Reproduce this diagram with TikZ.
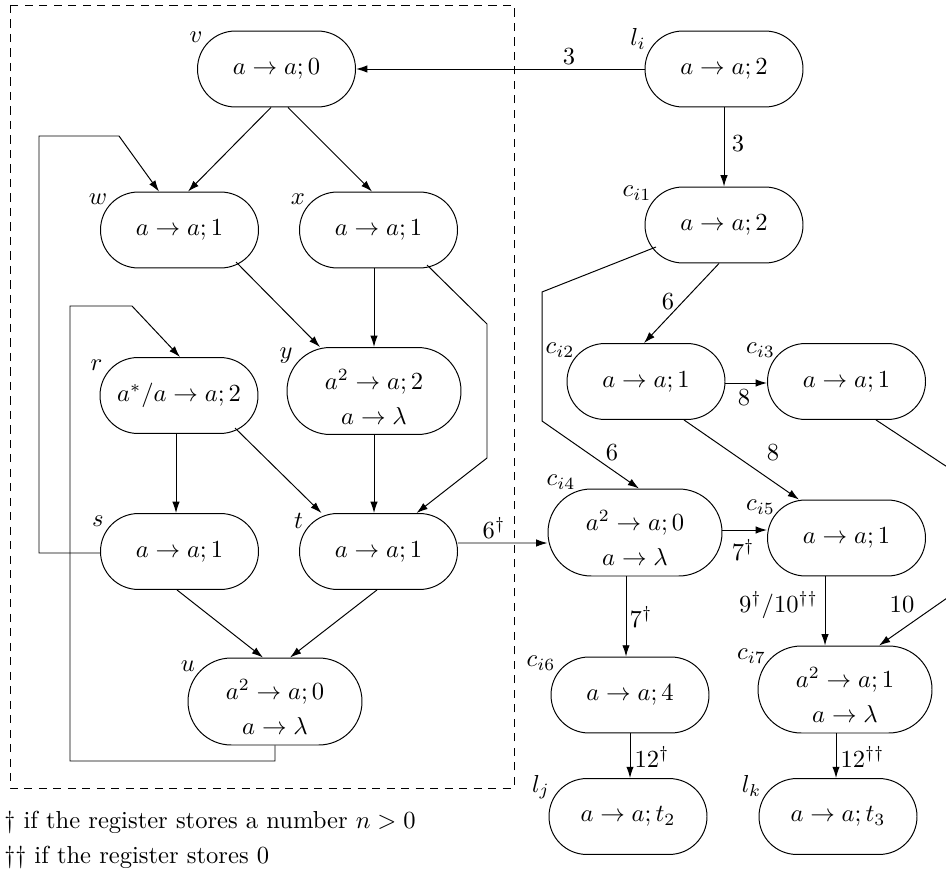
\documentclass[tikz,border=0pt]{standalone}
\usetikzlibrary{arrows.meta,calc}
\newcommand\mytwo[2]{\raisebox{-4pt}[\height][\depth]{$\begin{array}{@{}c@{}}#1\\[2.3pt]#2\end{array}$}}
\begin{document}
\begin{tikzpicture}[x=0.407pt,y=-0.407pt,
  st/.style={draw, rectangle, rounded corners=15.4pt, minimum width=64.3pt, minimum height=30.9pt, inner sep=0pt},
  sttwo/.style={draw, rectangle, rounded corners=17.6pt, minimum width=70.8pt, minimum height=35.4pt, inner sep=0pt},
  arr/.style={-{Latex[length=4.6pt,width=3pt]}},
  nm/.style={inner sep=0pt},
  lb/.style={inner sep=0pt},
  dbox/.style={dash pattern=on 3.3pt off 2.6pt}]
\clip (0,0) rectangle (946,873);
\draw[dbox] (10,5) rectangle (514,788);
% nodes
\node[st] (v) at (276.5,69) {$a\to a;0$};
\node[st] (w) at (179.5,230) {$a\to a;1$};
\node[st] (x) at (378.5,230) {$a\to a;1$};
\node[st] (r) at (179,395.5) {$a^*/a\to a;2$};
\node[sttwo] (y) at (374,391) {\mytwo{a^2\to a;2}{a\to\lambda}};
\node[st] (s) at (179.5,551.5) {$a\to a;1$};
\node[st] (t) at (378.5,551.5) {$a\to a;1$};
\node[sttwo] (u) at (275,701.5) {\mytwo{a^2\to a;0}{a\to\lambda}};
\node[st] (li) at (724,69) {$a\to a;2$};
\node[st] (ci1) at (724,225) {$a\to a;2$};
\node[st] (ci2) at (646,381.5) {$a\to a;1$};
\node[st] (ci3) at (846.5,381.5) {$a\to a;1$};
\node[sttwo] (ci4) at (635,532.5) {\mytwo{a^2\to a;0}{a\to\lambda}};
\node[st] (ci5) at (846.5,538) {$a\to a;1$};
\node[st] (ci6) at (630,695) {$a\to a;4$};
\node[sttwo] (ci7) at (845,689.5) {\mytwo{a^2\to a;1}{a\to\lambda}};
\node[st] (lj) at (628,816.5) {$a\to a;t_2$};
\node[st] (lk) at (838,816.5) {$a\to a;t_3$};
% name labels
\node[nm] (nv) at (196,37) {$v$};
\node[nm] (nw) at (98,199) {$w$};
\node[nm] (nx) at (298,199) {$x$};
\node[nm] (nr) at (96.5,365) {$r$};
\node[nm] (ny) at (286,356) {$y$};
\node[nm] (ns) at (98,521) {$s$};
\node[nm] (nt) at (298.5,521) {$t$};
\node[nm] (nu) at (188,666) {$u$};
\node[nm] (nli) at (638,39) {$l_i$};
\node[nm] (nci1) at (637,193) {$c_{i1}$};
\node[nm] (nci2) at (560,350) {$c_{i2}$};
\node[nm] (nci3) at (760.5,350) {$c_{i3}$};
\node[nm] (nci4) at (561,482) {$c_{i4}$};
\node[nm] (nci5) at (760.5,507) {$c_{i5}$};
\node[nm] (nci6) at (541,663) {$c_{i6}$};
\node[nm] (nci7) at (751.5,656) {$c_{i7}$};
\node[nm] (nlj) at (541,787) {$l_j$};
\node[nm] (nlk) at (751.5,786) {$l_k$};
% connectors
\draw[arr] (li.west) -- (v.east);
\draw[arr] (li.south) -- (ci1.north);
\draw[arr] ($(v.south)+(-5.5,0)$) -- ($(w.north)+(8.5,0)$);
\draw[arr] ($(v.south)+(11.5,0)$) -- ($(x.north)+(-6.5,0)$);
\coordinate (sA) at (39,136);
\coordinate (sB) at (119,136);
\draw[arr] ($(s.west)+(0,1.5)$) -| (sA) -- (sB) -- ($(w.north)+(-20.5,0)$);
\draw[arr] ($(w.center)+(56.5,32)$) -- ($(y.north)+(-54,0)$);
\draw[arr] ($(x.south)+(-4.5,0)$) -- (y.north);
\coordinate (xA) at (487,324);
\coordinate (xB) at (487,458);
\draw[arr] ($(x.center)+(48.5,35)$) -- (xA) -- (xB) -- ($(t.north)+(38,0)$);
\coordinate (uA) at (70,761);
\coordinate (uB) at (70,306);
\coordinate (uC) at (132,306);
\draw[arr] (u.south) |- (uA) -- (uB) -- (uC) -- ($(r.north)+(1,0)$);
\draw[arr] ($(r.south)+(-3,0)$) -- ($(s.north)+(-3.5,0)$);
\draw[arr] ($(r.center)+(56,32.5)$) -- ($(t.north)+(-57,0)$);
\draw[arr] (y.south) -- ($(t.north)+(-4.5,0)$);
\draw[arr] ($(t.east)+(0,-8.5)$) -- ($(ci4.west)+(0,10.5)$);
\draw[arr] ($(s.south)+(-2.5,0)$) -- ($(u.north)+(-12,0)$);
\draw[arr] ($(t.south)+(-1.5,0)$) -- ($(u.north)+(15,0)$);
\draw[arr] ($(ci1.south)+(-5,0)$) -- ($(ci2.north)+(-2,0)$);
\coordinate (cA) at (542,292);
\coordinate (cB) at (542,421);
\draw[arr] ($(ci1.center)+(-68,22)$) -- (cA) -- (cB) -- ($(ci4.north)+(4,0)$);
\draw[arr] ($(ci2.east)+(0,1.5)$) -- ($(ci3.west)+(0,1.5)$);
\draw[arr] ($(ci2.south)+(38,0)$) -- ($(ci5.north)+(-47.5,0)$);
\coordinate (dA) at (970,482);
\coordinate (dB) at (970,582);
\draw[arr] ($(ci3.south)+(29.5,0)$) -- (dA) -- (dB) -- ($(ci7.north)+(34,0)$);
\draw[arr] ($(ci4.east)+(0,-2.5)$) -- ($(ci5.west)+(0,-8)$);
\draw[arr] ($(ci4.south)+(-9,0)$) -- ($(ci6.north)+(-4,0)$);
\draw[arr] ($(ci5.south)+(-21.5,0)$) -- ($(ci7.north)+(-20,0)$);
\draw[arr] (ci6.south) -- ($(lj.north)+(2,0)$);
\draw[arr] ($(ci7.south)+(-9,0)$) -- ($(lk.north)+(-2,0)$);
% edge labels
\node[lb] (e1) at (569,57) {$3$};
\node[lb] (e2) at (738,144) {$3$};
\node[lb] (e3) at (494,528) {$6^\dagger$};
\node[lb] (e4) at (668,302) {$6$};
\node[lb] (e5) at (612,453) {$6$};
\node[lb] (e6) at (744,398) {$8$};
\node[lb] (e7) at (773,453) {$8$};
\node[lb] (e8) at (743,550) {$7^\dagger$};
\node[lb] (e9) at (641,617) {$7^\dagger$};
\node[lb] (e10) at (778.5,605) {$9^\dagger/10^{\dagger\dagger}$};
\node[lb] (e11) at (902,605) {$10$};
\node[lb] (e12) at (652,757) {$12^\dagger$};
\node[lb] (e13) at (862.5,757) {$12^{\dagger\dagger}$};
% footnotes
\node[lb, anchor=west] (fn1) at (4,822) {\dag\ if the register stores a number $n>0$};
\node[lb, anchor=west] (fn2) at (4,857) {\dag\dag\ if the register stores 0};
\end{tikzpicture}
\end{document}
